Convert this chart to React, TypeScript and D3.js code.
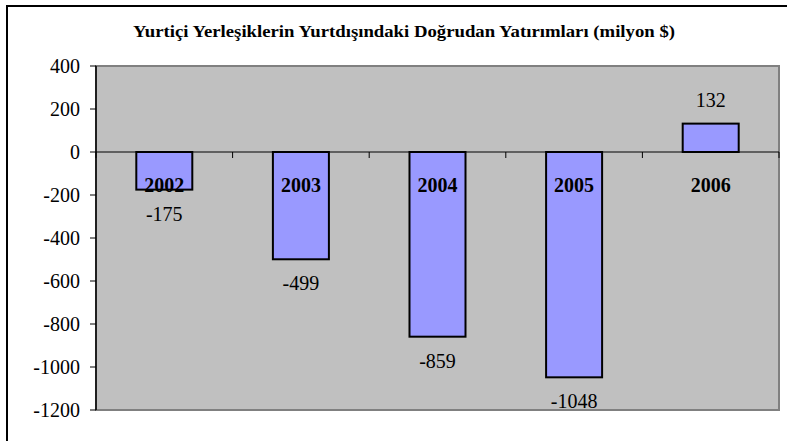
import React from 'react';
import * as d3 from 'd3';

const years = ['2002', '2003', '2004', '2005', '2006'];
const values = [-175, -499, -859, -1048, 132];
const yTicks = [400, 200, 0, -200, -400, -600, -800, -1000, -1200];
const title = 'Yurtiçi Yerleşiklerin Yurtdışındaki Doğrudan Yatırımları (milyon $)';

const W = 787;
const H = 441;
const plot = { left: 96, right: 779, top: 66, bottom: 410 };

export default function App() {
  const x = d3.scaleBand<string>()
    .domain(years)
    .range([plot.left, plot.right])
    .paddingInner(0.59)
    .paddingOuter(0.295);
  const y = d3.scaleLinear().domain([-1200, 400]).range([plot.bottom, plot.top]);
  const step = x.step();
  const y0 = y(0);

  // category boundary ticks on the zero line
  const bounds = d3.range(years.length + 1).map(i => plot.left + i * step);

  return (
    <svg width={W} height={H} style={{ position: 'absolute', left: 0, top: 0, background: '#fff' }}
      fontFamily="'Liberation Serif', 'Times New Roman', serif">
      <rect x={7} y={6} width={W + 10} height={H + 10} fill="#fff" stroke="#000" strokeWidth={2} />
      <text x={133} y={37} textLength={542} lengthAdjust="spacingAndGlyphs"
        fontWeight="bold" fontSize={17.5} fill="#000">{title}</text>

      <rect x={plot.left} y={plot.top} width={plot.right - plot.left} height={plot.bottom - plot.top}
        fill="#c0c0c0" stroke="#808080" strokeWidth={2} />

      {/* zero line */}
      <line x1={plot.left} x2={plot.right} y1={y0} y2={y0} stroke="#000" strokeWidth={1} />
      {bounds.map((b, i) => (
        <line key={i} x1={b} x2={b} y1={y0} y2={y0 + 6} stroke="#000" strokeWidth={1} />
      ))}

      {/* y axis */}
      <line x1={plot.left} x2={plot.left} y1={plot.top} y2={plot.bottom} stroke="#000" strokeWidth={1.5} />
      {yTicks.map(t => (
        <g key={t}>
          <line x1={plot.left - 6} x2={plot.left} y1={y(t)} y2={y(t)} stroke="#000" strokeWidth={1} />
          <text x={80} y={y(t)} dy="0.35em" textAnchor="end" fontSize={20} fill="#000">{t}</text>
        </g>
      ))}

      {/* bars */}
      {years.map((yr, i) => {
        const v = values[i];
        const top = Math.min(y(v), y0);
        const h = Math.abs(y(v) - y0);
        return (
          <rect key={yr} x={x(yr)} y={top} width={x.bandwidth()} height={h}
            fill="#9999ff" stroke="#000" strokeWidth={2} />
        );
      })}

      {/* category labels */}
      {years.map(yr => (
        <text key={'c' + yr} x={(x(yr) as number) + x.bandwidth() / 2} y={192} textAnchor="middle"
          fontWeight="bold" fontSize={20} fill="#000">{yr}</text>
      ))}

      {/* value labels */}
      {years.map((yr, i) => {
        const v = values[i];
        const ly = v < 0 ? y(v) + 24 : y(v) - 24;
        return (
          <text key={'v' + yr} x={(x(yr) as number) + x.bandwidth() / 2} y={ly} dy="0.35em"
            textAnchor="middle" fontSize={20} fill="#000">{v}</text>
        );
      })}
    </svg>
  );
}
